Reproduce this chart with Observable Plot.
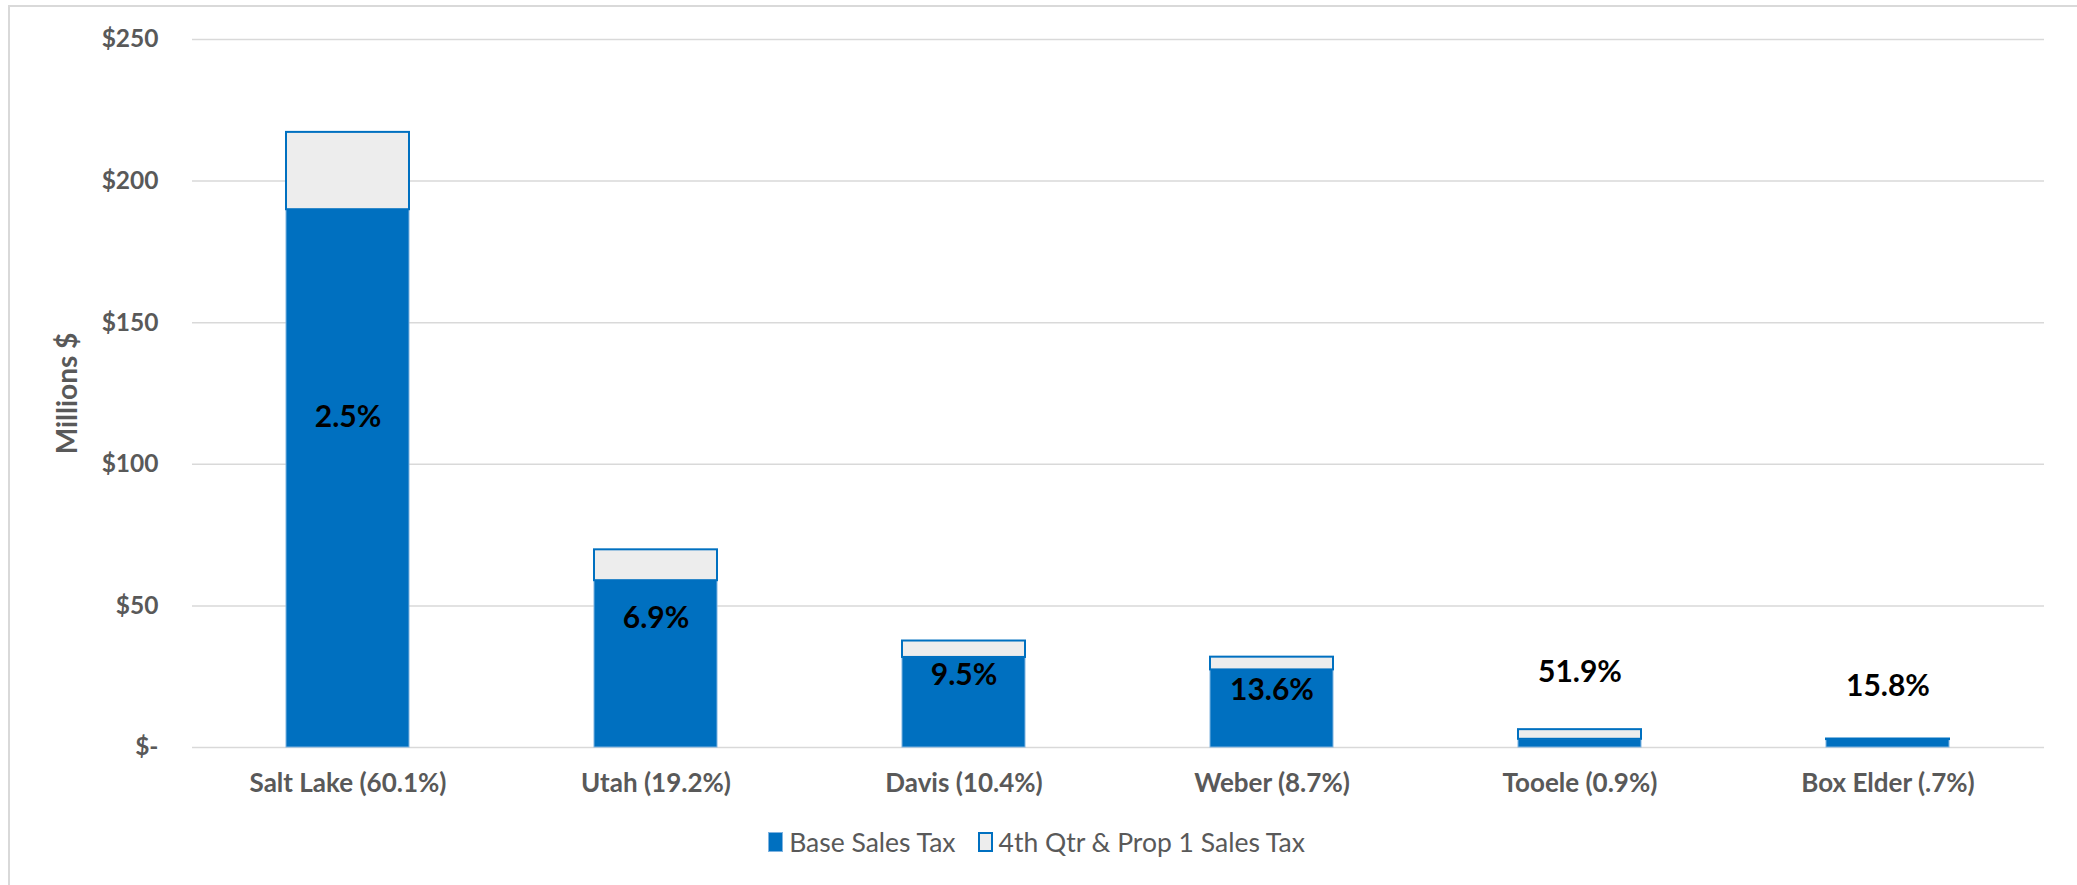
<!DOCTYPE html>
<html>
<head>
<meta charset="utf-8">
<script src="https://cdn.jsdelivr.net/npm/d3@7"></script>
<script src="https://cdn.jsdelivr.net/npm/@observablehq/plot@0.6"></script>
<style>
  html, body { margin: 0; padding: 0; background: #fff; }
  body { width: 2077px; height: 885px; overflow: hidden; font-family: Lato, "Open Sans", sans-serif; }
  #wrap { position: relative; width: 2077px; height: 885px; }
  #frame { position: absolute; left: 8px; top: 5px; width: 3000px; height: 2000px;
           border-top: 2px solid #d9d9d9; border-left: 2px solid #d9d9d9; pointer-events: none; }
  #chart svg { display: block; }
  #legend { margin-top: 28px; height: 28px; line-height: 28px; display: flex; justify-content: center;
            align-items: center; font-size: 26.5px; color: #595959; padding-right: 4px; }
  .item { display: flex; align-items: center; margin: 0 11px; }
  .sw { width: 15px; height: 20px; margin-right: 6px; box-sizing: border-box; }
</style>
</head>
<body>
<div id="wrap">
  <div id="frame"></div>
  <div id="chart"></div>
  <div id="legend"></div>
</div>
<script>
const counties = ["Salt Lake (60.1%)", "Utah (19.2%)", "Davis (10.4%)", "Weber (8.7%)", "Tooele (0.9%)", "Box Elder (.7%)"];
const baseSalesTax = [189.9, 58.9, 31.8, 27.4, 2.9, 2.8];
const prop1SalesTax = [27.3, 10.9, 5.8, 4.5, 3.4, 0.2];
const growthLabels = ["2.5%", "6.9%", "9.5%", "13.6%", "51.9%", "15.8%"];
const labelY = [116.6, 45.6, 25.4, 20.1, 26.4, 21.7];
const yTicks = [0, 50, 100, 150, 200, 250];
const seriesNames = ["Base Sales Tax", "4th Qtr & Prop 1 Sales Tax"];

const baseRows = counties.map((c, i) => ({county: c, y1: 0, y2: baseSalesTax[i]}));
const extRows = counties.map((c, i) => ({county: c, y1: baseSalesTax[i], y2: baseSalesTax[i] + prop1SalesTax[i]}));
const labelRows = counties.map((c, i) => ({county: c, y: labelY[i], text: growthLabels[i]}));

const BLUE = "#0070C0";
const GRAY = "#595959";

const chart = Plot.plot({
  width: 2077,
  height: 800,
  marginTop: 39,
  marginBottom: 53,
  marginLeft: 192,
  marginRight: 33,
  style: {fontFamily: "Lato, 'Open Sans', sans-serif", background: "transparent"},
  x: {type: "band", domain: counties, paddingInner: 0.6, paddingOuter: 0.3},
  y: {domain: [0, 250]},
  marks: [
    Plot.ruleY(yTicks, {stroke: "#d9d9d9", strokeWidth: 1.5}),
    Plot.barY(baseRows, {x: "county", y1: "y1", y2: "y2", fill: BLUE, stroke: "#7fb3e0", strokeWidth: 1}),
    Plot.barY(extRows, {x: "county", y1: "y1", y2: "y2", fill: "#ededed", stroke: BLUE, strokeWidth: 2}),
    Plot.text(labelRows, {x: "county", y: "y", text: "text", fontSize: 30, fontWeight: "bold", fill: "#000"}),
    Plot.axisY({ticks: yTicks, tickFormat: d => d === 0 ? "$-" : "$" + d, tickSize: 0, tickPadding: 34,
                fontSize: 24.5, fontWeight: "bold", fill: GRAY, label: null}),
    Plot.axisX({tickSize: 0, tickPadding: 26, fontSize: 26, fontWeight: "bold", fill: GRAY, label: null}),
    Plot.text(["Millions $"], {frameAnchor: "left", dx: -124, rotate: -90, fontSize: 28, fontWeight: "bold",
                               fill: GRAY, textAnchor: "middle", lineAnchor: "middle"})
  ]
});
document.getElementById("chart").appendChild(chart);

const legend = document.getElementById("legend");
const swatchStyles = [
  `background:${BLUE};border:1px solid #7fb3e0;`,
  `background:#ededed;border:2px solid ${BLUE};`
];
seriesNames.forEach((name, i) => {
  const item = document.createElement("div");
  item.className = "item";
  const sw = document.createElement("div");
  sw.className = "sw";
  sw.style.cssText = swatchStyles[i];
  const label = document.createElement("span");
  label.textContent = name;
  item.appendChild(sw);
  item.appendChild(label);
  legend.appendChild(item);
});
</script>
</body>
</html>
